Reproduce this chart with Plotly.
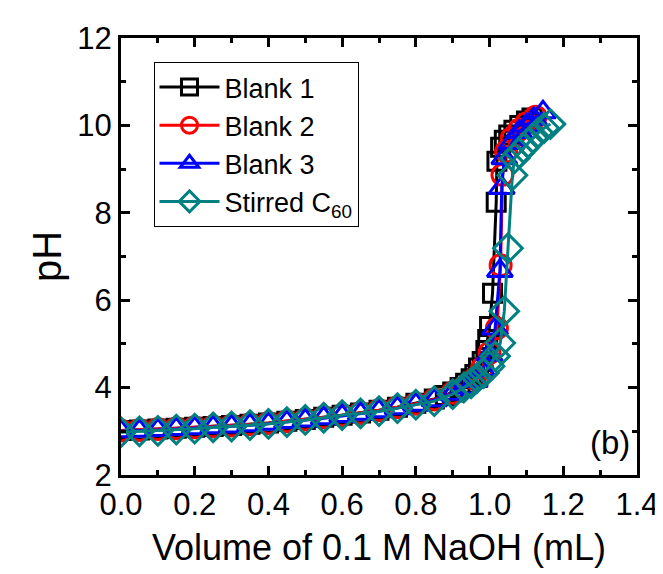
import plotly.graph_objects as go

# volume of 0.1 M NaOH (mL) and pH readings
x_blank1 = [0.0, 0.05, 0.10, 0.15, 0.20, 0.25, 0.30, 0.35, 0.40, 0.45, 0.50, 0.55, 0.60, 0.65, 0.70,
            0.75, 0.80, 0.85, 0.88, 0.90, 0.92, 0.935, 0.95, 0.96, 0.97, 0.98, 0.99, 0.995, 1.0,
            1.008, 1.018, 1.02, 1.03, 1.04, 1.052, 1.066, 1.082, 1.10, 1.115]
ph_blank1 = [3.02, 3.03, 3.05, 3.07, 3.09, 3.11, 3.13, 3.16, 3.19, 3.23, 3.27, 3.32, 3.37, 3.42, 3.48,
             3.55, 3.64, 3.74, 3.82, 3.90, 4.00, 4.10, 4.20, 4.30, 4.45, 4.60, 4.85, 5.10, 5.40,
             6.16, 8.24, 9.18, 9.50, 9.66, 9.78, 9.89, 10.00, 10.10, 10.17]

x_blank2 = [0.0, 0.05, 0.10, 0.15, 0.20, 0.25, 0.30, 0.35, 0.40, 0.45, 0.50, 0.55, 0.60, 0.65, 0.70,
            0.75, 0.80, 0.85, 0.90, 0.93, 0.96, 0.98, 1.0, 1.02, 1.03, 1.035, 1.045, 1.06, 1.08,
            1.10, 1.125]
ph_blank2 = [3.02, 3.03, 3.05, 3.07, 3.09, 3.11, 3.13, 3.16, 3.19, 3.23, 3.27, 3.32, 3.37, 3.42, 3.48,
             3.55, 3.63, 3.73, 3.88, 4.00, 4.20, 4.45, 4.80, 5.36, 6.80, 8.87, 9.40, 9.70, 9.90,
             10.05, 10.20]

x_blank3 = [0.0, 0.05, 0.10, 0.15, 0.20, 0.25, 0.30, 0.35, 0.40, 0.45, 0.50, 0.55, 0.60, 0.65, 0.70,
            0.75, 0.80, 0.85, 0.90, 0.93, 0.96, 0.98, 1.0, 1.015, 1.028, 1.033, 1.04, 1.06, 1.08,
            1.10, 1.12, 1.145]
ph_blank3 = [3.00, 3.01, 3.03, 3.05, 3.07, 3.09, 3.11, 3.14, 3.17, 3.21, 3.25, 3.30, 3.35, 3.40, 3.46,
             3.53, 3.61, 3.71, 3.86, 4.00, 4.15, 4.40, 4.75, 5.35, 6.67, 8.57, 9.25, 9.60, 9.85,
             10.00, 10.15, 10.30]

x_c60 = [0.0, 0.05, 0.10, 0.15, 0.20, 0.25, 0.30, 0.35, 0.40, 0.45, 0.50, 0.55, 0.60, 0.65, 0.70,
         0.75, 0.80, 0.85, 0.90, 0.93, 0.95, 0.966, 0.984, 1.0, 1.015, 1.029, 1.04, 1.05, 1.062,
         1.068, 1.08, 1.092, 1.105, 1.118, 1.132, 1.148, 1.165]
ph_c60 = [2.98, 3.00, 3.01, 3.04, 3.06, 3.09, 3.11, 3.14, 3.17, 3.21, 3.26, 3.31, 3.37, 3.41, 3.46,
          3.53, 3.61, 3.69, 3.85, 4.00, 4.10, 4.22, 4.33, 4.49, 4.72, 5.02, 5.75, 7.19, 8.86,
          9.25, 9.37, 9.48, 9.60, 9.71, 9.83, 9.94, 10.03]

FONT = "Liberation Sans, Arial, sans-serif"

traces = [
    go.Scatter(x=x_blank1, y=ph_blank1, name='Blank 1', mode='lines+markers',
               line=dict(color='black', width=3),
               marker=dict(symbol='square-open', size=18, color='black', line=dict(width=3))),
    go.Scatter(x=x_blank2, y=ph_blank2, name='Blank 2', mode='lines+markers',
               line=dict(color='#ff0000', width=3),
               marker=dict(symbol='circle-open', size=21, color='#ff0000', line=dict(width=3))),
    go.Scatter(x=x_blank3, y=ph_blank3, name='Blank 3', mode='lines+markers',
               line=dict(color='#0000ff', width=3),
               marker=dict(symbol='triangle-up-open', size=22, color='#0000ff', line=dict(width=3))),
    go.Scatter(x=x_c60, y=ph_c60, name='Stirred C<sub>60</sub>', mode='lines+markers',
               line=dict(color='#008080', width=3),
               marker=dict(symbol='diamond-open', size=22, color='#008080', line=dict(width=3))),
]

axis_common = dict(
    showline=True, linecolor='black', linewidth=3, mirror='ticks',
    ticks='inside', ticklen=9, tickwidth=3, tickcolor='black',
    showgrid=False, zeroline=False,
    tickfont=dict(family=FONT, size=31, color='black'),
)

layout = go.Layout(
    width=663, height=574,
    margin=dict(l=113, r=28, t=30, b=107),
    paper_bgcolor='white', plot_bgcolor='white',
    font=dict(family=FONT, color='black'),
    xaxis=dict(range=[0, 1.4], dtick=0.2, tickformat='.1f',
               minor=dict(dtick=0.1, ticks='inside', ticklen=5, tickwidth=3, tickcolor='black'),
               title=dict(text='Volume of 0.1 M NaOH (mL)', font=dict(family=FONT, size=36), standoff=14),
               **axis_common),
    yaxis=dict(range=[2, 12], dtick=2,
               minor=dict(dtick=1, ticks='inside', ticklen=5, tickwidth=3, tickcolor='black'),
               title=dict(text='pH', font=dict(family=FONT, size=40), standoff=4),
               **axis_common),
    showlegend=True,
    legend=dict(x=0.063, y=0.945, xanchor='left', yanchor='top',
                bgcolor='white', bordercolor='black', borderwidth=1,
                font=dict(family=FONT, size=27, color='black'),
                tracegroupgap=0, itemwidth=60),
    annotations=[dict(text='(b)', x=0.99, y=0.075, xref='paper', yref='paper',
                      xanchor='right', yanchor='middle', showarrow=False,
                      font=dict(family=FONT, size=33, color='black'))],
)

fig = go.Figure(data=traces, layout=layout)
fig.write_html("out.html")
